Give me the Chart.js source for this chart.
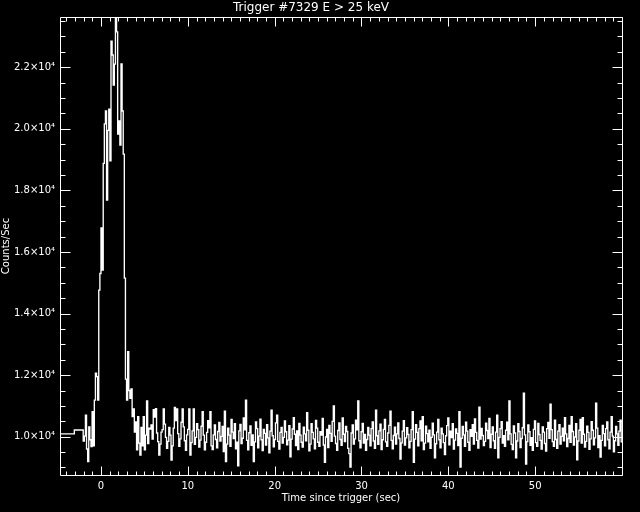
<!DOCTYPE html>
<html>
<head>
<meta charset="utf-8">
<script src="https://cdn.jsdelivr.net/npm/chart.js@4/dist/chart.umd.min.js"></script>
<style>
html,body{margin:0;padding:0;background:#000;}
canvas{display:block;}
</style>
</head>
<body>
<canvas id="c" width="640" height="512"></canvas>
<script>
// ---- data ----
const chartTitle = 'Trigger #7329 E > 25 keV';
const xTitle = 'Time since trigger (sec)';
const yTitle = 'Counts/Sec';
const xMajorTicks = [0, 10, 20, 30, 40, 50];
const yMajorTicks = [10000, 12000, 14000, 16000, 18000, 20000, 22000];
const xMinorStep = 1;
const yMinorStep = 500;
const xRange = [-4.72, 60.0];
const yRange = [8756, 23633];

// pre-burst coarse bins (start times, s) and rates
const preburstTimes = [-5.12, -4.096, -3.072];
const preburstCounts = [10090, 10090, 10218];

// fine bins
const fineStart = -2.048;
const fineBin = 0.128;
const fineCounts = [
 9860,10020,10700,9600,9190,10320,9900,9680,10810,9700,
 11190,12060,11950,11190,14760,15300,16780,15410,18880,20160,
 20580,17690,19950,20640,18960,22850,22400,21420,22100,24200,
 23150,19830,20260,19470,22110,20580,19180,15150,11870,11190,
 12760,11500,11250,11550,10650,10900,10150,10480,9570,10650,
 9790,9400,10300,9700,10650,9570,10050,11160,9780,10280,
 10250,10380,9920,10880,10640,10910,10120,9840,9400,9760,
 10150,10230,10900,10410,9980,9620,9850,10300,10050,9240,
 9700,10280,10950,10520,10900,10100,9690,9930,10470,10900,
 10320,9870,9560,10060,10240,10900,9400,9810,10190,10900,
 9750,9980,10420,10230,9660,9890,10340,10810,10050,9570,
 9820,10140,10520,10290,10810,9700,9580,10060,10380,9910,
 9640,10170,10460,9860,10010,10330,9520,10830,9190,9760,
 10280,10050,9690,10560,10150,9940,10420,9610,9820,9050,
 10190,10400,9780,9950,10610,10220,11190,9880,9570,10130,
 10350,9720,10060,9190,9830,10480,10260,9640,10020,10570,
 9900,9550,10240,10110,9730,10390,9960,9480,10180,10860,
 10030,9670,9910,10450,10700,9850,9600,10140,10300,9790,
 9980,10510,10160,9740,9890,10360,9350,9920,10250,10620,
 10080,9710,10190,9580,10430,10050,9820,9660,10310,10090,
 9870,10780,10210,9540,9760,10420,10140,9930,9610,10530,
 10280,9820,9690,10160,10050,10590,9730,9170,9990,10240,
 9650,10370,10110,9850,10500,11000,10020,9780,9560,10200,
 10450,9910,9720,10610,10080,9840,10330,10170,9620,9450,
 9010,10120,10380,9760,9930,10540,10220,11160,9870,9640,
 10160,10430,9790,10070,9560,9910,10300,10050,9700,10260,
 10480,9860,9620,10860,10030,9750,10190,10410,9580,9900,
 10240,10560,9830,9690,10120,10370,10830,9880,9610,10040,
 10310,9760,10090,10450,9940,9270,9800,10180,10520,9730,
 9960,10290,10070,9640,9850,10230,10810,9170,9920,10390,
 10140,9700,10260,10510,9870,10650,9580,9790,10340,10100,
 9830,10210,9620,9980,10440,10060,9310,9770,10150,10560,
 9900,9640,10280,10090,9810,9420,10030,10360,10610,9740,
 10180,9970,10420,9600,9890,10250,10110,9710,10810,9010,
 9950,10330,10060,9690,10470,10180,9820,9560,10230,10010,
 10390,9760,10580,10140,9880,9630,10960,9920,10270,10040,
 9710,9850,10440,10200,9940,10590,9650,10080,10320,9870,
 9620,10150,10700,9310,9980,10260,10490,9790,10030,9690,
 10210,10470,9900,11160,10090,9750,9580,10350,10120,9310,
 9860,10420,10170,9650,9940,10290,11410,10060,9110,9840,
 10380,10160,9720,9970,9560,10240,10510,9810,9690,10430,
 10070,9880,9600,10320,10150,9780,9530,10260,10460,9950,
 11060,10230,9840,9690,10540,9910,9620,10180,10390,9760,
 10010,10280,9870,10620,10090,9680,9940,10370,9820,10650,
 10170,9730,9990,10420,9250,9860,10210,10560,9790,10620,
 10080,9660,9850,10340,10140,9590,9930,10490,10210,9740,
 9960,11090,10280,9650,10030,9340,9880,10370,10100,9700,
 10260,10480,9900,9610,10150,10650,10020,9510,9870,10330,
 10090,9720,10180,10540,9830
];

// ---- build histogram points (x = bin start) ----
const points = [];
preburstTimes.forEach((t, k) => points.push({x: t, y: preburstCounts[k]}));
fineCounts.forEach((v, i) => points.push({x: fineStart + i * fineBin, y: v}));
points.push({x: fineStart + fineCounts.length * fineBin, y: fineCounts[fineCounts.length - 1]});

const FONT = "'DejaVu Sans', sans-serif";

const boxPlugin = {
  id: 'idlBox',
  beforeDraw(chart) {
    const ctx = chart.ctx;
    ctx.save();
    ctx.fillStyle = '#000';
    ctx.fillRect(0, 0, chart.width, chart.height);
    ctx.restore();
  },
  afterDraw(chart) {
    const ctx = chart.ctx;
    const a = chart.chartArea;
    const xs = chart.scales.x, ys = chart.scales.y;
    const L = Math.floor(a.left) + 0.5, R = Math.floor(a.right) + 0.5;
    const T = Math.floor(a.top) + 0.5, B = Math.floor(a.bottom) + 0.5;
    ctx.save();
    ctx.strokeStyle = '#fff';
    ctx.lineWidth = 1;
    ctx.beginPath();
    ctx.rect(L, T, R - L, B - T);
    const xMaj = 9, xMin = 4, yMaj = 10, yMin = 5;
    for (let v = Math.ceil(xRange[0]); v <= xRange[1]; v += xMinorStep) {
      const p = Math.round(xs.getPixelForValue(v)) + 0.5;
      const len = xMajorTicks.includes(v) ? xMaj : xMin;
      ctx.moveTo(p, B); ctx.lineTo(p, B - len);
      ctx.moveTo(p, T); ctx.lineTo(p, T + len);
    }
    for (let v = Math.ceil(yRange[0] / yMinorStep) * yMinorStep; v <= yRange[1]; v += yMinorStep) {
      const p = Math.round(ys.getPixelForValue(v)) + 0.5;
      const len = yMajorTicks.includes(v) ? yMaj : yMin;
      ctx.moveTo(L, p); ctx.lineTo(L + len, p);
      ctx.moveTo(R, p); ctx.lineTo(R - len, p);
    }
    ctx.stroke();
    ctx.restore();
  }
};

new Chart(document.getElementById('c'), {
  type: 'line',
  data: {
    datasets: [{
      data: points,
      borderColor: '#ffffff',
      borderWidth: 1.35,
      pointRadius: 0,
      stepped: 'before',
      fill: false,
      tension: 0
    }]
  },
  options: {
    responsive: false,
    animation: false,
    devicePixelRatio: 1,
    layout: {padding: {left: 0, right: 18, top: 0, bottom: 0}},
    plugins: {
      legend: {display: false},
      tooltip: {enabled: false},
      title: {
        display: true,
        text: chartTitle,
        color: '#fff',
        font: {family: FONT, size: 12, weight: 'normal', lineHeight: 1.2},
        padding: {top: 0.8, bottom: 1.8}
      }
    },
    scales: {
      x: {
        type: 'linear',
        min: xRange[0],
        max: xRange[1],
        grid: {display: false, drawTicks: false},
        border: {display: false},
        afterBuildTicks(s) { s.ticks = xMajorTicks.map(v => ({value: v})); },
        afterFit(s) { s.height = 37; },
        ticks: {
          color: '#fff', autoSkip: false, maxRotation: 0, padding: 5,
          font: {family: FONT, size: 10},
          callback: v => String(v)
        },
        title: {
          display: true, text: xTitle, color: '#fff',
          font: {family: FONT, size: 10, lineHeight: 1.2},
          padding: {top: 0, bottom: 8}
        }
      },
      y: {
        type: 'linear',
        min: yRange[0],
        max: yRange[1],
        grid: {display: false, drawTicks: false},
        border: {display: false},
        afterBuildTicks(s) { s.ticks = yMajorTicks.map(v => ({value: v})); },
        afterFit(s) { s.width = 60; },
        ticks: {
          color: '#fff', padding: 5,
          font: {family: FONT, size: 10},
          callback: v => (v / 10000).toFixed(1) + '×10⁴'
        },
        title: {
          display: true, text: yTitle, color: '#fff',
          font: {family: FONT, size: 10, lineHeight: 1.2},
          padding: {top: 0, bottom: 0}
        }
      }
    }
  },
  plugins: [boxPlugin]
});
</script>
</body>
</html>
